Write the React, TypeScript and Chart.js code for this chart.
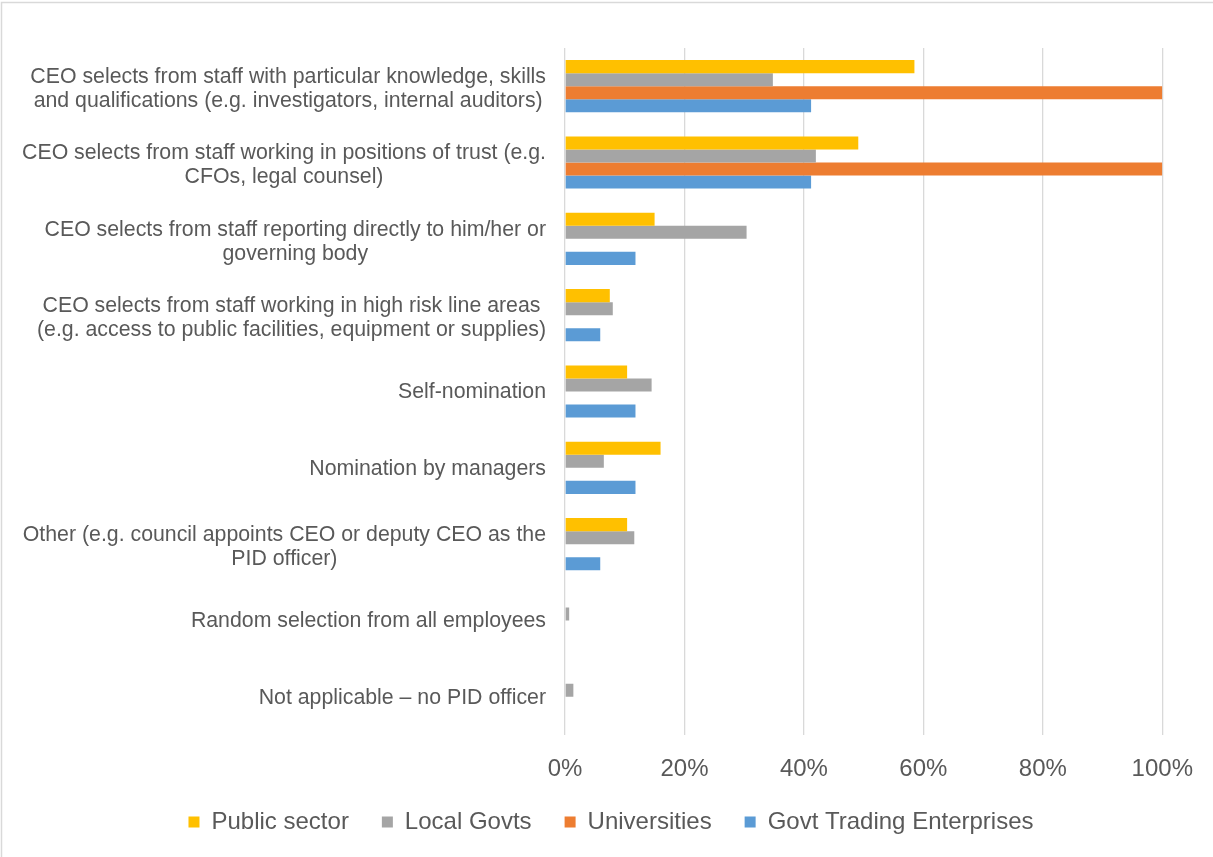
import React, { useEffect, useRef } from 'react';
import { Chart, registerables } from 'chart.js';

Chart.register(...registerables);

const categoryLabels: string[][] = [
  ['CEO selects from staff with particular knowledge, skills', 'and qualifications (e.g. investigators, internal auditors)'],
  ['CEO selects from staff working in positions of trust (e.g.', 'CFOs, legal counsel)'],
  ['CEO selects from staff reporting directly to him/her or', 'governing body'],
  ['CEO selects from staff working in high risk line areas', '(e.g. access to public facilities, equipment or supplies)'],
  ['Self-nomination'],
  ['Nomination by managers'],
  ['Other (e.g. council appoints CEO or deputy CEO as the', 'PID officer)'],
  ['Random selection from all employees'],
  ['Not applicable \u2013 no PID officer'],
];

const seriesNames = ['Public sector', 'Local Govts', 'Universities', 'Govt Trading Enterprises'];
const publicSector = [58.5, 49.1, 15.0, 7.5, 10.4, 16.0, 10.4, 0, 0];
const localGovts = [34.8, 42.0, 30.4, 8.0, 14.5, 6.5, 11.6, 0.7, 1.4];
const universities = [100, 100, 0, 0, 0, 0, 0, 0, 0];
const govtTrading = [41.2, 41.2, 11.8, 5.9, 11.8, 11.8, 5.9, 0, 0];
const seriesColors = ['#FFC000', '#A5A5A5', '#ED7D31', '#5B9BD5'];
const xTicks = [0, 20, 40, 60, 80, 100];

const FONT = '"Liberation Sans", Arial, sans-serif';
const TEXT = '#595959';
const LABEL_FS = 21.3;
const FS = 24;

const yLabelPlugin = {
  id: 'yLabels',
  afterDraw(chart: any) {
    const ctx = chart.ctx;
    const yScale = chart.scales.y;
    const right = chart.chartArea.left - 19;
    ctx.save();
    ctx.font = `${LABEL_FS}px ${FONT}`;
    ctx.fillStyle = TEXT;
    ctx.textBaseline = 'middle';
    ctx.textAlign = 'center';
    categoryLabels.forEach((lines, i) => {
      const cy = yScale.getPixelForValue(i) + (lines.length > 1 ? 3 : 1);
      const w = Math.max(...lines.map((l) => ctx.measureText(l).width));
      const cx = right - w / 2;
      lines.forEach((l, j) => {
        ctx.fillText(l, cx, cy + (j - (lines.length - 1) / 2) * 24);
      });
    });
    ctx.restore();
  },
};

const borderPlugin = {
  id: 'outerBorder',
  beforeDraw(chart: any) {
    const ctx = chart.ctx;
    ctx.save();
    ctx.fillStyle = '#ffffff';
    ctx.fillRect(0, 0, chart.width, chart.height);
    ctx.strokeStyle = '#d9d9d9';
    ctx.lineWidth = 1.5;
    ctx.strokeRect(1.5, 2.5, chart.width + 10, chart.height + 10);
    ctx.restore();
  },
};

export default function App() {
  const ref = useRef<HTMLCanvasElement | null>(null);
  useEffect(() => {
    if (!ref.current) return;
    const datasets = [publicSector, localGovts, universities, govtTrading].map((d, i) => ({
      label: seriesNames[i],
      data: d,
      backgroundColor: seriesColors[i],
      borderWidth: 0,
      categoryPercentage: 0.683,
      barPercentage: 1,
    }));
    const chart = new Chart(ref.current, {
      type: 'bar',
      data: { labels: categoryLabels.map((l) => l.join(' ')), datasets },
      options: {
        indexAxis: 'y',
        animation: false,
        responsive: false,
        devicePixelRatio: 1,
        layout: { padding: { top: 48, left: 58.5, right: 49.5, bottom: 13 } },
        scales: {
          y: {
            display: true,
            grid: { display: false },
            border: { display: false },
            ticks: { display: false },
            afterFit: (s: any) => {
              s.width = 506.5;
            },
          },
          x: {
            min: 0,
            max: 100,
            afterBuildTicks: (scale: any) => {
              scale.ticks = xTicks.map((v) => ({ value: v }));
            },
            afterFit: (s: any) => {
              s.height = 42;
            },
            grid: { color: '#d9d9d9', lineWidth: 1.3, drawTicks: false },
            border: { display: false },
            ticks: {
              padding: 20,
              color: TEXT,
              font: { family: FONT, size: FS },
              callback: (v: any) => `${v}%`,
            },
          },
        },
        plugins: {
          tooltip: { enabled: false },
          legend: {
            position: 'bottom',
            labels: {
              color: TEXT,
              font: { family: FONT, size: FS },
              boxWidth: 11,
              boxHeight: 11,
              padding: 33,
            },
          },
        },
      },
      plugins: [borderPlugin, yLabelPlugin],
    });
    return () => chart.destroy();
  }, []);
  return (
    <div style={{ position: 'absolute', left: 0, top: 0, width: 1213, height: 857 }}>
      <canvas ref={ref} width={1213} height={857} style={{ display: 'block' }} />
    </div>
  );
}
